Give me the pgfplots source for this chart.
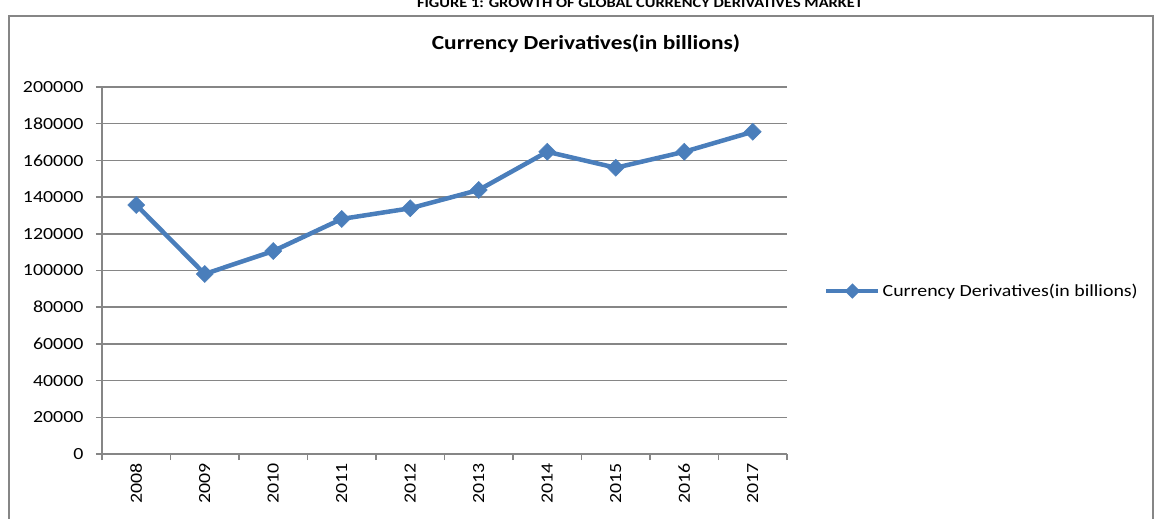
\documentclass[border=0pt]{standalone}
\usepackage{pgfplots}
\pgfplotsset{compat=1.18}
\usepackage{fontspec}
\setmainfont{Carlito}[FakeStretch=1.17]
\definecolor{ser}{HTML}{4A7EBB}
\definecolor{axg}{HTML}{868686}
\begin{document}
\begin{tikzpicture}[x=1pt,y=1pt]
\useasboundingbox (0,0) rectangle (1156,519);
\clip (0,0) rectangle (1156,519);
\draw[axg, line width=1.5pt] (9,-5) -- (9,503) -- (1153,503) -- (1153,-5);
\node[anchor=base, font=\fontsize{14}{16}\selectfont\bfseries] at (640,511) {FIGURE 1: GROWTH OF GLOBAL CURRENCY DERIVATIVES MARKET};
\node[anchor=base, font=\fontsize{20}{24}\selectfont\bfseries] at (586,469) {Currency Derivatives(in billions)};
\begin{axis}[
  at={(102pt,65pt)}, anchor=south west,
  scale only axis, width=685pt, height=367pt,
  xmin=-0.5, xmax=9.5, ymin=0, ymax=200000,
  xtick={-0.5,0.5,...,9.5},
  x tick label as interval,
  xticklabels={2008,2009,2010,2011,2012,2013,2014,2015,2016,2017},
  ytick={0,20000,...,200000},
  axis x line*=bottom, axis y line*=left,
  axis line style={axg, line width=1.5pt, -},
  tick align=outside, major tick length=6pt,
  tick style={axg, line width=1.5pt},
  ymajorgrids, grid style={axg, line width=1.5pt},
  scaled y ticks=false,
  yticklabel style={/pgf/number format/fixed, /pgf/number format/1000 sep={}, xshift=-9pt},
  /pgf/number format/assume math mode=true,
  ticklabel style={font=\fontsize{17}{20}\selectfont},
  xticklabel style={rotate=90, anchor=east},
  legend style={at={(1.054,0.444)}, anchor=west, draw=none, fill=none,
    font=\fontsize{17}{20}\selectfont, inner sep=0pt, cells={anchor=west}},
  legend image code/.code={
    \draw[ser, line width=4.5pt] (0pt,0pt) -- (52pt,0pt);
    \fill[ser] (26pt,4.5pt) -- (30.5pt,0pt) -- (26pt,-4.5pt) -- (21.5pt,0pt) -- cycle;
  },
]
\addplot[ser, line width=4.5pt, mark=square*, mark size=6pt,
  mark options={rotate=45, solid, line width=0.5pt, fill=ser, draw=ser}]
coordinates {
  (0,135700) (1,98100) (2,110600) (3,128100) (4,133900)
  (5,143900) (6,164700) (7,156000) (8,164700) (9,175600)
};
\addlegendentry{Currency Derivatives(in billions)}
\end{axis}
\end{tikzpicture}
\end{document}
